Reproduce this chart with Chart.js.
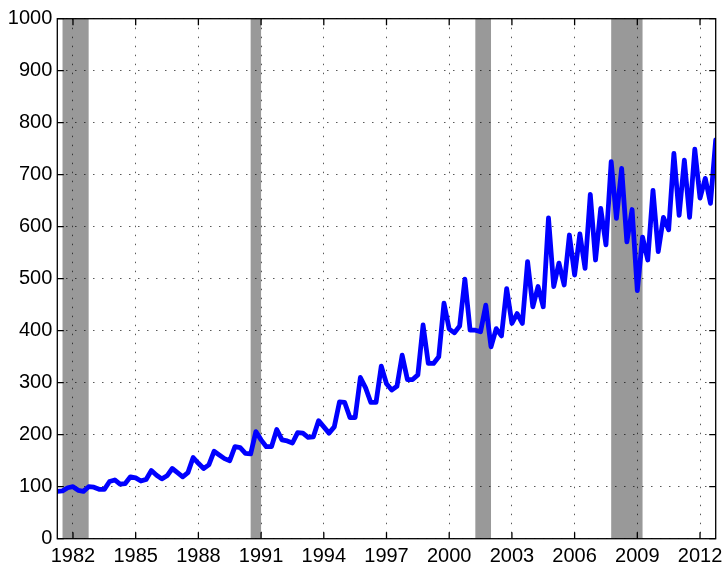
<!DOCTYPE html>
<html>
<head>
<meta charset="utf-8">
<script src="https://cdn.jsdelivr.net/npm/chart.js@4.4.1/dist/chart.umd.min.js"></script>
<style>
  html, body { margin: 0; padding: 0; background: #fff; }
  canvas { display: block; }
</style>
</head>
<body>
<canvas id="salesChart" width="722" height="566"></canvas>
<script>
// quarterly series, first point 1981 Q2 (plotted as 1981.25)
const startYear = 1981.25;
const values = [
  91, 92, 98, 100, 93, 91, 100, 99, 95, 95,
  110, 113, 105, 106, 119, 117, 111, 114, 131, 122,
  115, 121, 135, 127, 119, 127, 156, 145, 135, 142,
  168, 161, 154, 150, 177, 175, 164, 163, 206, 190,
  177, 177, 210, 190, 188, 184, 204, 203, 195, 196,
  227, 215, 203, 215, 263, 262, 233, 233, 310, 290,
  262, 262, 332, 298, 286, 293, 353, 306, 306, 315,
  411, 337, 337, 350, 453, 403, 396, 409, 499, 401,
  401, 398, 449, 369, 404, 390, 481, 414, 433, 414,
  533, 446, 485, 446, 617, 485, 530, 488, 584, 507,
  586, 520, 662, 536, 635, 565, 725, 616, 712, 571,
  633, 477, 580, 536, 670, 552, 618, 594, 741, 622,
  728, 618, 749, 655, 693, 645, 767
];
const xTicks = [1982, 1985, 1988, 1991, 1994, 1997, 2000, 2003, 2006, 2009, 2012];
const recessionStart = [1981.5, 1990.5, 2001.25, 2007.75];
const recessionEnd = [1982.75, 1991.0, 2002.0, 2009.25];

const points = values.map((v, i) => ({ x: startYear + i * 0.25, y: v }));

const shadePlugin = {
  id: 'recessions',
  beforeDraw(chart) {
    const { ctx, chartArea, scales } = chart;
    ctx.save();
    ctx.fillStyle = '#999999';
    for (let i = 0; i < recessionStart.length; i++) {
      const x1 = scales.x.getPixelForValue(recessionStart[i]);
      const x2 = scales.x.getPixelForValue(recessionEnd[i]);
      ctx.fillRect(x1, chartArea.top, x2 - x1, chartArea.bottom - chartArea.top);
    }
    ctx.restore();
  }
};

// matlab style box with inward ticks on all sides
const boxPlugin = {
  id: 'box',
  afterDraw(chart) {
    const { ctx, chartArea: a, scales } = chart;
    const len = 6.5;
    ctx.save();
    ctx.strokeStyle = '#000';
    ctx.lineWidth = 1.3;
    ctx.beginPath();
    scales.y.ticks.forEach(t => {
      const y = scales.y.getPixelForValue(t.value);
      ctx.moveTo(a.left, y); ctx.lineTo(a.left + len, y);
      ctx.moveTo(a.right, y); ctx.lineTo(a.right - len, y);
    });
    scales.x.ticks.forEach(t => {
      const x = scales.x.getPixelForValue(t.value);
      ctx.moveTo(x, a.bottom); ctx.lineTo(x, a.bottom - len);
      ctx.moveTo(x, a.top); ctx.lineTo(x, a.top + len);
    });
    ctx.stroke();
    ctx.strokeRect(a.left, a.top, a.right - a.left, a.bottom - a.top);
    ctx.restore();
  }
};

const ctx = document.getElementById('salesChart').getContext('2d');
new Chart(ctx, {
  type: 'line',
  data: {
    datasets: [{
      data: points,
      borderColor: '#0000ff',
      borderWidth: 4.8,
      borderJoinStyle: 'round',
      borderCapStyle: 'round',
      pointRadius: 0,
      tension: 0,
      fill: false
    }]
  },
  options: {
    responsive: false,
    animation: false,
    events: [],
    layout: { padding: { top: 18.7, right: 6.3, left: 0, bottom: 0 } },
    plugins: {
      legend: { display: false },
      tooltip: { enabled: false }
    },
    scales: {
      x: {
        type: 'linear',
        min: 1981.25,
        max: 2012.75,
        afterBuildTicks: scale => { scale.ticks = xTicks.map(v => ({ value: v })); },
        afterFit: scale => {
          scale.height = 27.3;
          scale.paddingLeft = 0;
          scale.paddingRight = 0;
        },
        grid: { color: 'rgba(0,0,0,0.65)', lineWidth: 1, drawTicks: false },
        border: { display: false, dash: [1.5, 7.5] },
        ticks: {
          autoSkip: false,
          maxRotation: 0,
          padding: 6,
          color: '#000',
          font: { family: 'Liberation Sans', size: 20 },
          callback: v => String(v)
        }
      },
      y: {
        min: 0,
        max: 1000,
        afterFit: scale => {
          scale.width = 57.3;
          scale.paddingTop = 0;
          scale.paddingBottom = 0;
        },
        grid: { color: 'rgba(0,0,0,0.65)', lineWidth: 1, drawTicks: false },
        border: { display: false, dash: [1.5, 7.5] },
        ticks: {
          stepSize: 100,
          padding: 5,
          color: '#000',
          font: { family: 'Liberation Sans', size: 20 },
          callback: v => String(v)
        }
      }
    }
  },
  plugins: [shadePlugin, boxPlugin]
});
</script>
</body>
</html>
